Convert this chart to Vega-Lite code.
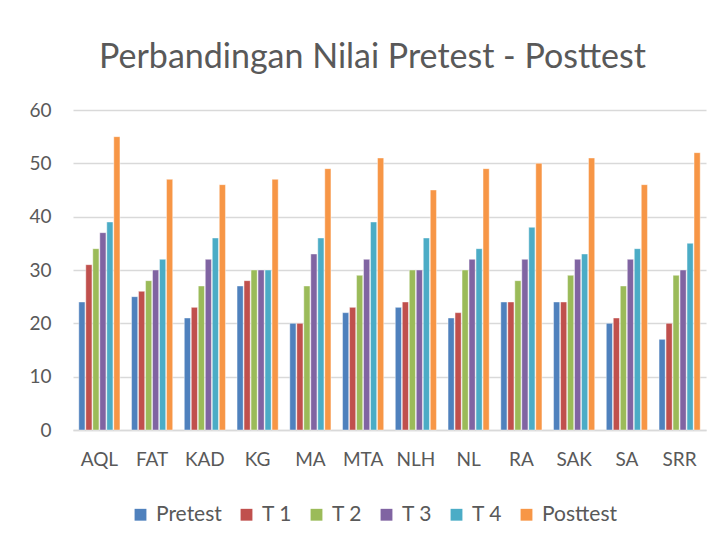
{
  "$schema": "https://vega.github.io/schema/vega-lite/v6.json",
  "width": 633,
  "height": 320,
  "autosize": "none",
  "padding": {"left": 73, "top": 110, "right": 16, "bottom": 115},
  "background": "white",
  "title": {
    "text": "Perbandingan Nilai Pretest - Posttest",
    "font": "Lato",
    "fontSize": 34,
    "fontWeight": "normal",
    "color": "#595959",
    "anchor": "middle",
    "dx": -17,
    "offset": 26
  },
  "data": {
    "values": [
      {"nama":"AQL","tes":"Pretest","nilai":24},{"nama":"AQL","tes":"T 1","nilai":31},{"nama":"AQL","tes":"T 2","nilai":34},{"nama":"AQL","tes":"T 3","nilai":37},{"nama":"AQL","tes":"T 4","nilai":39},{"nama":"AQL","tes":"Posttest","nilai":55},
      {"nama":"FAT","tes":"Pretest","nilai":25},{"nama":"FAT","tes":"T 1","nilai":26},{"nama":"FAT","tes":"T 2","nilai":28},{"nama":"FAT","tes":"T 3","nilai":30},{"nama":"FAT","tes":"T 4","nilai":32},{"nama":"FAT","tes":"Posttest","nilai":47},
      {"nama":"KAD","tes":"Pretest","nilai":21},{"nama":"KAD","tes":"T 1","nilai":23},{"nama":"KAD","tes":"T 2","nilai":27},{"nama":"KAD","tes":"T 3","nilai":32},{"nama":"KAD","tes":"T 4","nilai":36},{"nama":"KAD","tes":"Posttest","nilai":46},
      {"nama":"KG","tes":"Pretest","nilai":27},{"nama":"KG","tes":"T 1","nilai":28},{"nama":"KG","tes":"T 2","nilai":30},{"nama":"KG","tes":"T 3","nilai":30},{"nama":"KG","tes":"T 4","nilai":30},{"nama":"KG","tes":"Posttest","nilai":47},
      {"nama":"MA","tes":"Pretest","nilai":20},{"nama":"MA","tes":"T 1","nilai":20},{"nama":"MA","tes":"T 2","nilai":27},{"nama":"MA","tes":"T 3","nilai":33},{"nama":"MA","tes":"T 4","nilai":36},{"nama":"MA","tes":"Posttest","nilai":49},
      {"nama":"MTA","tes":"Pretest","nilai":22},{"nama":"MTA","tes":"T 1","nilai":23},{"nama":"MTA","tes":"T 2","nilai":29},{"nama":"MTA","tes":"T 3","nilai":32},{"nama":"MTA","tes":"T 4","nilai":39},{"nama":"MTA","tes":"Posttest","nilai":51},
      {"nama":"NLH","tes":"Pretest","nilai":23},{"nama":"NLH","tes":"T 1","nilai":24},{"nama":"NLH","tes":"T 2","nilai":30},{"nama":"NLH","tes":"T 3","nilai":30},{"nama":"NLH","tes":"T 4","nilai":36},{"nama":"NLH","tes":"Posttest","nilai":45},
      {"nama":"NL","tes":"Pretest","nilai":21},{"nama":"NL","tes":"T 1","nilai":22},{"nama":"NL","tes":"T 2","nilai":30},{"nama":"NL","tes":"T 3","nilai":32},{"nama":"NL","tes":"T 4","nilai":34},{"nama":"NL","tes":"Posttest","nilai":49},
      {"nama":"RA","tes":"Pretest","nilai":24},{"nama":"RA","tes":"T 1","nilai":24},{"nama":"RA","tes":"T 2","nilai":28},{"nama":"RA","tes":"T 3","nilai":32},{"nama":"RA","tes":"T 4","nilai":38},{"nama":"RA","tes":"Posttest","nilai":50},
      {"nama":"SAK","tes":"Pretest","nilai":24},{"nama":"SAK","tes":"T 1","nilai":24},{"nama":"SAK","tes":"T 2","nilai":29},{"nama":"SAK","tes":"T 3","nilai":32},{"nama":"SAK","tes":"T 4","nilai":33},{"nama":"SAK","tes":"Posttest","nilai":51},
      {"nama":"SA","tes":"Pretest","nilai":20},{"nama":"SA","tes":"T 1","nilai":21},{"nama":"SA","tes":"T 2","nilai":27},{"nama":"SA","tes":"T 3","nilai":32},{"nama":"SA","tes":"T 4","nilai":34},{"nama":"SA","tes":"Posttest","nilai":46},
      {"nama":"SRR","tes":"Pretest","nilai":17},{"nama":"SRR","tes":"T 1","nilai":20},{"nama":"SRR","tes":"T 2","nilai":29},{"nama":"SRR","tes":"T 3","nilai":30},{"nama":"SRR","tes":"T 4","nilai":35},{"nama":"SRR","tes":"Posttest","nilai":52}
    ]
  },
  "mark": {"type": "bar", "stroke": "white", "strokeWidth": 0.6, "strokeOpacity": 0.7},
  "encoding": {
    "x": {
      "field": "nama",
      "type": "nominal",
      "sort": null,
      "title": null,
      "scale": {"paddingInner": 0.22, "paddingOuter": 0.11},
      "axis": {
        "labelAngle": 0,
        "labelFont": "Lato",
        "labelFontSize": 19,
        "labelColor": "#595959",
        "labelPadding": 20,
        "ticks": false,
        "domainColor": "#d9d9d9",
        "domainWidth": 1.5
      }
    },
    "xOffset": {
      "field": "tes",
      "type": "nominal",
      "sort": ["Pretest","T 1","T 2","T 3","T 4","Posttest"],
      "scale": {"paddingInner": 0.12}
    },
    "y": {
      "field": "nilai",
      "type": "quantitative",
      "title": null,
      "scale": {"domain": [0, 60], "nice": false},
      "axis": {
        "values": [0,10,20,30,40,50,60],
        "labelFont": "Lato",
        "labelFontSize": 19,
        "labelColor": "#595959",
        "labelPadding": 22,
        "ticks": false,
        "domain": false,
        "gridColor": "#d9d9d9",
        "gridWidth": 1.5
      }
    },
    "color": {
      "field": "tes",
      "type": "nominal",
      "sort": ["Pretest","T 1","T 2","T 3","T 4","Posttest"],
      "scale": {
        "domain": ["Pretest","T 1","T 2","T 3","T 4","Posttest"],
        "range": ["#4F81BD","#C0504D","#9BBB59","#8064A2","#4BACC6","#F79646"]
      },
      "legend": {
        "title": null,
        "orient": "none",
        "direction": "horizontal",
        "legendX": 57,
        "legendY": 394,
        "symbolType": "square",
        "symbolSize": 140,
        "symbolStrokeWidth": 0,
        "labelFont": "Lato",
        "labelFontSize": 21,
        "labelColor": "#595959",
        "labelOffset": 5,
        "columnPadding": 14
      }
    }
  },
  "config": {
    "view": {"stroke": null}
  }
}
